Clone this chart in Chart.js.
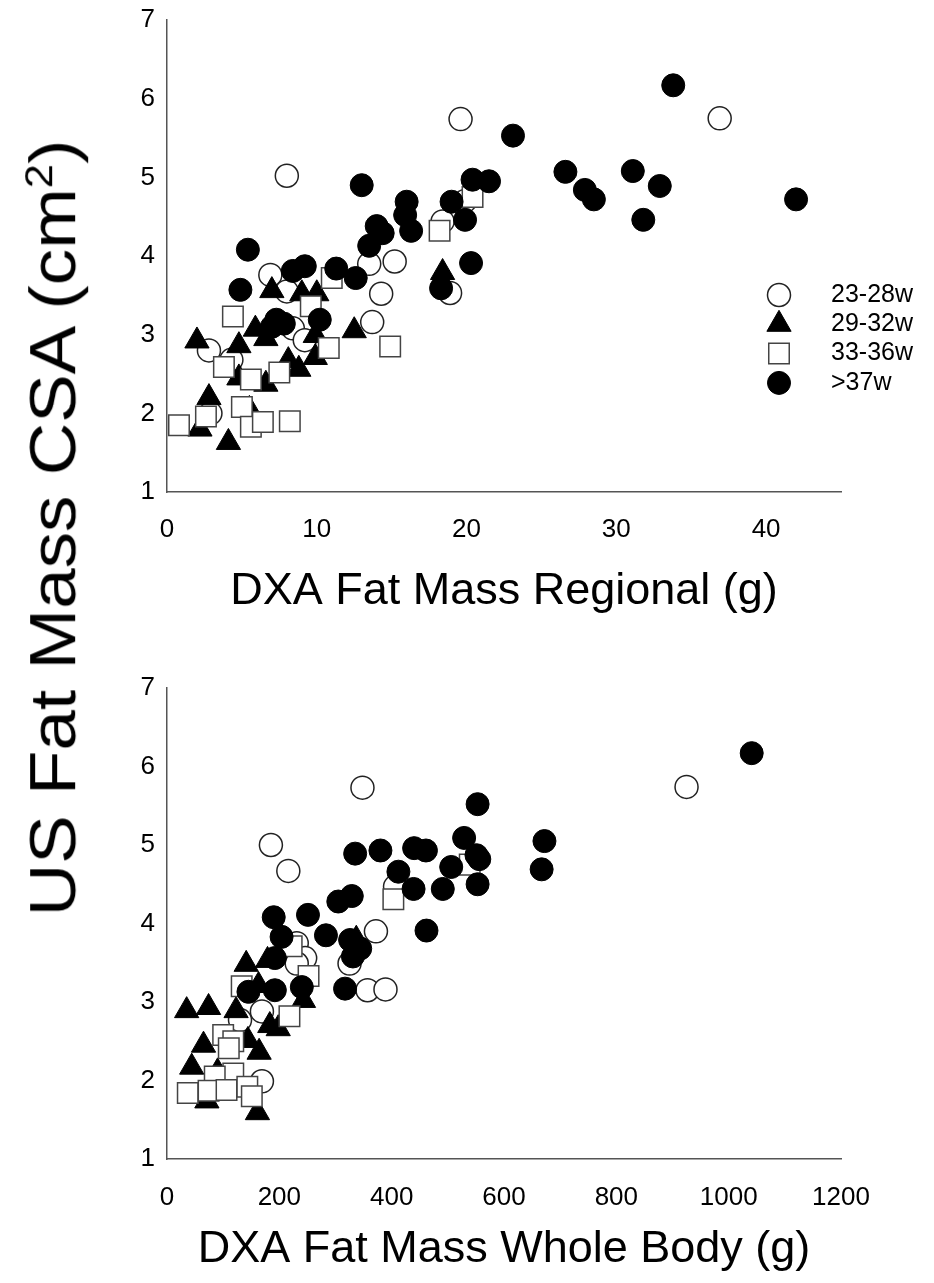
<!DOCTYPE html>
<html>
<head>
<meta charset="utf-8">
<script src="https://cdn.jsdelivr.net/npm/chart.js@4.4.1/dist/chart.umd.min.js"></script>
<style>
  html, body { margin: 0; padding: 0; background: #fff; }
  #wrap { position: relative; width: 934px; height: 1283px; font-family: "Liberation Sans", Arial, sans-serif; }
  #topChart { position: absolute; left: 0; top: 0; }
  #bottomChart { position: absolute; left: 0; top: 640px; }
  #ytitle {
    position: absolute; left: 52px; top: 528px;
    transform: translate(-50%, -50%) rotate(-90deg) scaleX(1.12);
    white-space: nowrap; font-size: 65px; line-height: 1; color: #000;
  }
  #ytitle sup { font-size: 0.6em; }
</style>
</head>
<body>
<div id="wrap">
  <canvas id="topChart" width="934" height="640"></canvas>
  <canvas id="bottomChart" width="934" height="643"></canvas>
  <div id="ytitle">US Fat Mass CSA (cm<sup>2</sup>)</div>
</div>
<script>
var groups = ["23-28w", "29-32w", "33-36w", ">37w"];

// DXA regional fat mass (g) vs US CSA (cm2)
var regional2328 = [[19.6,5.74],[8.0,5.02],[36.9,5.75],[18.4,4.44],[19.9,4.70],[15.2,3.93],[13.5,3.90],[6.9,3.76],[8.0,3.55],[14.3,3.52],[18.9,3.53],[13.7,3.16],[8.4,3.08],[9.2,2.93],[2.8,2.80],[4.3,2.68],[2.9,2.00]];
var regional2932 = [[7.0,3.56],[9.0,3.52],[10.0,3.52],[18.4,3.79],[12.5,3.05],[5.9,3.07],[6.6,2.95],[9.9,2.99],[2.0,2.92],[4.8,2.86],[9.9,2.71],[8.1,2.67],[8.8,2.56],[4.8,2.45],[6.6,2.37],[2.8,2.20],[2.2,1.80],[4.1,1.63],[5.5,2.05]];
var regional3336 = [[20.4,4.75],[18.2,4.32],[11.0,3.72],[9.6,3.36],[4.4,3.23],[3.8,2.59],[10.8,2.83],[7.5,2.52],[5.6,2.43],[14.9,2.85],[2.6,1.96],[0.8,1.85],[5.0,2.08],[5.6,1.83],[6.4,1.89],[8.2,1.90]];
var regional37 = [[13.0,4.90],[20.4,4.97],[21.5,4.95],[19.0,4.69],[16.0,4.69],[15.9,4.52],[14.0,4.38],[14.4,4.29],[16.3,4.32],[13.5,4.13],[19.9,4.46],[5.4,4.08],[11.3,3.84],[12.6,3.72],[9.2,3.87],[8.4,3.81],[4.9,3.57],[7.3,3.19],[7.8,3.14],[7.0,3.10],[10.2,3.19],[20.3,3.91],[18.3,3.59],[33.8,6.17],[23.1,5.53],[26.6,5.07],[27.9,4.84],[28.5,4.72],[31.1,5.08],[32.9,4.89],[31.8,4.46],[42.0,4.72]];

// DXA whole body fat mass (g) vs US CSA (cm2)
var whole2328 = [[348,5.73],[925,5.74],[185,5.00],[216,4.67],[372,3.90],[406,4.47],[325,3.49],[231,3.75],[246,3.56],[231,3.49],[357,3.15],[389,3.16],[169,2.88],[130,2.77],[169,1.99]];
var whole2932 = [[141,3.48],[179,3.53],[163,3.21],[243,3.02],[123,2.89],[35,2.89],[74,2.93],[198,2.66],[183,2.70],[144,2.51],[164,2.36],[65,2.45],[44,2.17],[90,2.11],[71,1.74],[161,1.59],[337,3.80]];
var whole3336 = [[403,4.31],[539,4.75],[222,3.71],[252,3.33],[133,3.20],[218,2.82],[100,2.58],[118,2.50],[110,2.41],[118,2.09],[85,2.05],[37,1.84],[74,1.87],[106,1.88],[143,1.92],[151,1.80]];
var whole37 = [[1041,6.17],[553,5.52],[672,5.05],[529,5.09],[551,4.87],[556,4.82],[440,4.96],[461,4.93],[380,4.93],[335,4.89],[412,4.66],[506,4.72],[667,4.69],[439,4.44],[491,4.44],[553,4.50],[462,3.91],[190,4.08],[251,4.11],[305,4.28],[329,4.35],[204,3.83],[283,3.85],[326,3.79],[344,3.68],[331,3.58],[192,3.56],[145,3.13],[192,3.15],[240,3.19],[317,3.17]];

var yTicks = [1, 2, 3, 4, 5, 6, 7];
var regionalTicks = [0, 10, 20, 30, 40];
var wholeTicks = [0, 200, 400, 600, 800, 1000, 1200];

Chart.defaults.font.family = '"Liberation Sans", Arial, sans-serif';
Chart.defaults.color = "#000";

// marker look per group (order: lower = drawn on top)
var styles = [
  { pointStyle: "circle",   pointRadius: 11.5, pointBackgroundColor: "#fff", pointBorderColor: "#222", pointBorderWidth: 1.5, order: 4 },
  { pointStyle: "triangle", pointRadius: 14,   pointBackgroundColor: "#000", pointBorderColor: "#000", pointBorderWidth: 1,   order: 3 },
  { pointStyle: "rect",     pointRadius: 14.5, pointBackgroundColor: "#fff", pointBorderColor: "#444", pointBorderWidth: 1.5, order: 2 },
  { pointStyle: "circle",   pointRadius: 11.5, pointBackgroundColor: "#000", pointBorderColor: "#000", pointBorderWidth: 1,   order: 1 }
];

function makeDatasets(series) {
  return series.map(function (pts, i) {
    var ds = Object.assign({ label: groups[i], showLine: false }, styles[i]);
    ds.data = pts.map(function (p) { return { x: p[0], y: p[1] }; });
    ds.pointHoverRadius = styles[i].pointRadius;
    return ds;
  });
}

// legend drawn inside the plot, like the original figure
var markerLegend = {
  id: "markerLegend",
  afterDatasetsDraw: function (chart, args, opts) {
    if (!opts.show) return;
    var ctx = chart.ctx;
    ctx.save();
    ctx.font = '25px "Liberation Sans", Arial, sans-serif';
    ctx.textBaseline = "middle";
    chart.data.datasets.forEach(function (ds, i) {
      var y = opts.top + i * opts.rowGap;
      ctx.save();
      ctx.fillStyle = ds.pointBackgroundColor;
      ctx.strokeStyle = ds.pointBorderColor;
      ctx.lineWidth = ds.pointBorderWidth;
      Chart.helpers.drawPoint(ctx, { pointStyle: ds.pointStyle, radius: ds.pointRadius, borderWidth: ds.pointBorderWidth, rotation: 0 }, opts.markerX, y);
      ctx.restore();
      ctx.fillStyle = "#000";
      ctx.fillText(ds.label, opts.textX, y);
    });
    ctx.restore();
  }
};

function axisBorder() {
  return { display: true, color: "#555", width: 1.5 };
}

function makeChart(id, series, xTicks, xMax, xTitle, pad, xHeight, xTickPad, titlePad, legendOpts) {
  return new Chart(id, {
    type: "scatter",
    data: { datasets: makeDatasets(series) },
    plugins: [markerLegend],
    options: {
      responsive: false,
      animation: false,
      events: [],
      layout: { padding: pad },
      plugins: {
        legend: { display: false },
        tooltip: { enabled: false },
        markerLegend: legendOpts
      },
      scales: {
        x: {
          type: "linear",
          bounds: "data",
          min: xTicks[0],
          max: xMax,
          grid: { display: false, drawTicks: false },
          border: axisBorder(),
          ticks: {
            stepSize: xTicks[1] - xTicks[0], padding: xTickPad, font: { size: 26 }, color: "#000",
            callback: function (v) { return String(v); }
          },
          afterBuildTicks: function (axis) {
            axis.ticks = axis.ticks.filter(function (t) { return xTicks.indexOf(t.value) >= 0; });
          },
          title: { display: true, text: xTitle, font: { size: 45 }, color: "#000", padding: { top: 0, bottom: titlePad } },
          afterFit: function (axis) { axis.height = xHeight; axis.paddingLeft = 0; axis.paddingRight = 0; }
        },
        y: {
          type: "linear",
          min: yTicks[0],
          max: yTicks[yTicks.length - 1],
          grid: { display: false, drawTicks: false },
          border: axisBorder(),
          ticks: { stepSize: 1, padding: 12, font: { size: 26 }, color: "#000" },
          afterFit: function (axis) { axis.width = 167; axis.paddingTop = 0; axis.paddingBottom = 0; }
        }
      }
    }
  });
}

makeChart("topChart", [regional2328, regional2932, regional3336, regional37], regionalTicks, 45,
  "DXA Fat Mass Regional (g)", { left: 0, right: 93, top: 20, bottom: 0 }, 148, 22, 21,
  { show: true, markerX: 779, textX: 831, top: 295, rowGap: 29.3 });

makeChart("bottomChart", [whole2328, whole2932, whole3336, whole37], wholeTicks, 1200,
  "DXA Fat Mass Whole Body (g)", { left: 0, right: 93, top: 48, bottom: 0 }, 124, 23, 6,
  { show: false });
</script>
</body>
</html>
